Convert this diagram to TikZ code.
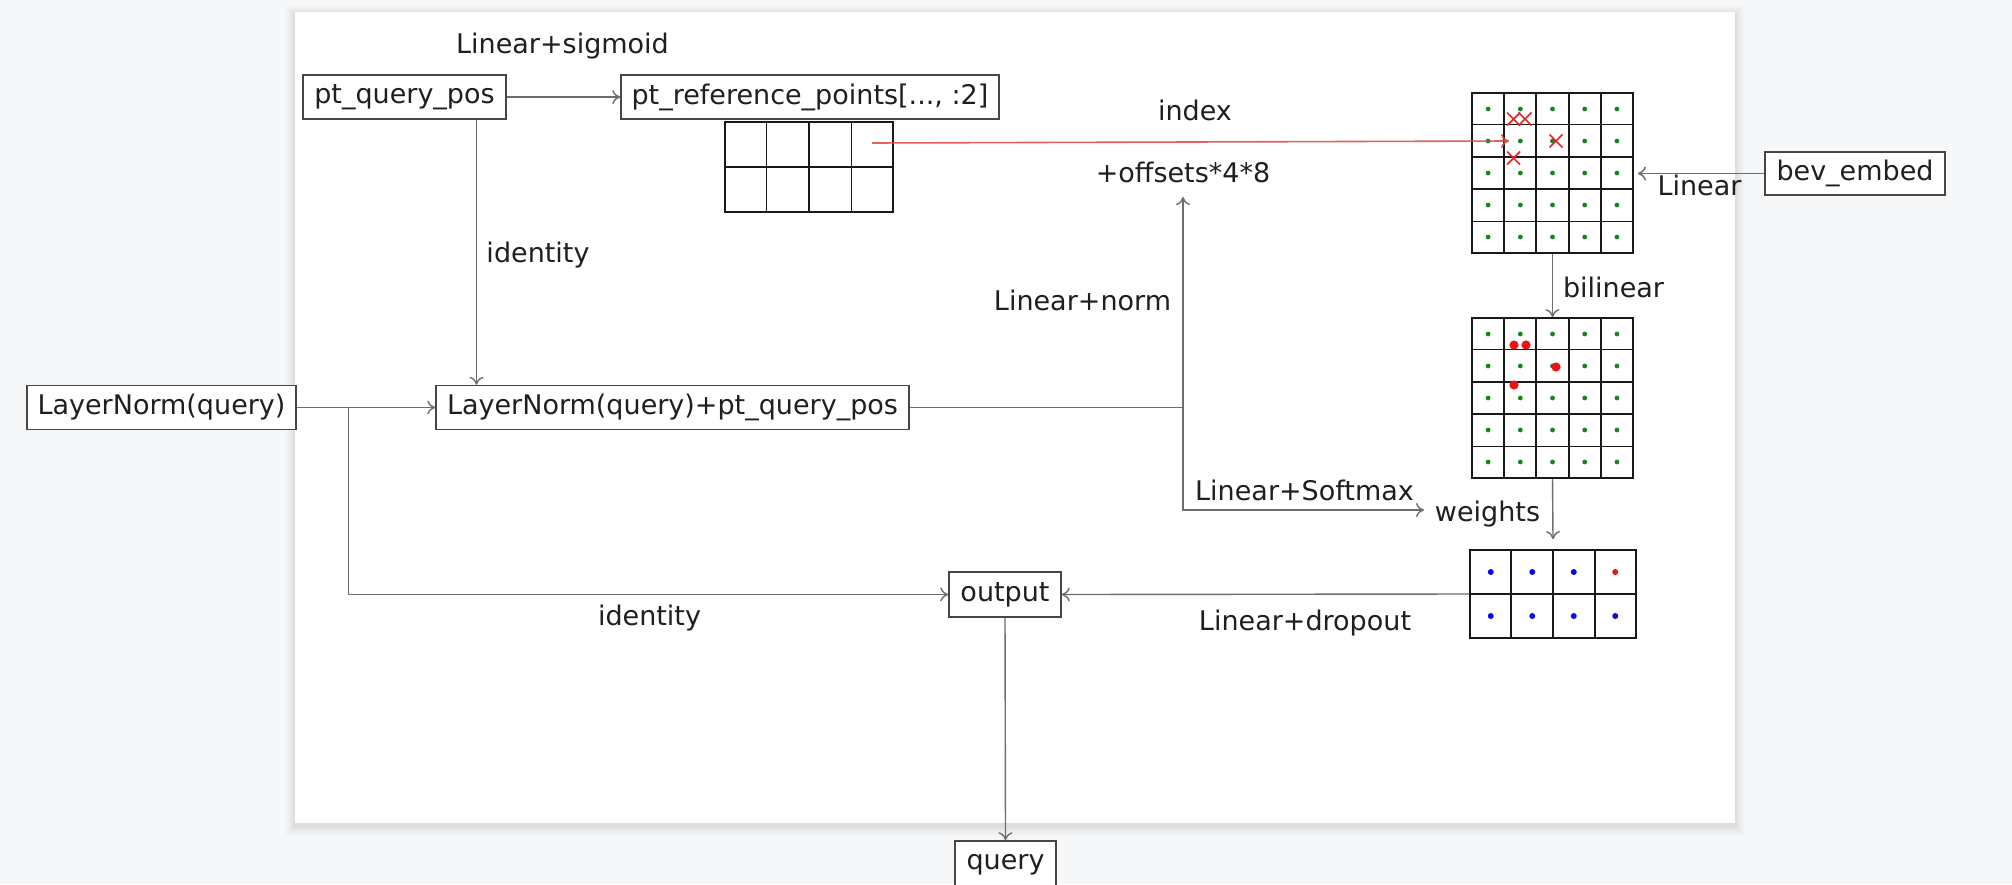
\documentclass[tikz,border=0pt]{standalone}
\usepackage{fontspec}
\setmainfont{DejaVu Sans}
\usetikzlibrary{arrows.meta,calc}
\definecolor{bgcol}{RGB}{246,247,249}
\definecolor{linecol}{RGB}{110,110,110}
\definecolor{boxcol}{RGB}{70,70,70}
\definecolor{redline}{RGB}{215,70,70}
\definecolor{xred}{RGB}{225,40,40}
\definecolor{dotred}{RGB}{235,20,20}
\definecolor{dotgreen}{RGB}{20,135,30}
\definecolor{dotblue}{RGB}{10,10,220}
\begin{document}
\begin{tikzpicture}[x=0.5pt,y=-0.5pt,
  txt/.style={font=\fontsize{13.5}{16}\selectfont, text=black!88},
  box/.style={txt, draw=boxcol, line width=0.75pt, fill=white, inner sep=0pt, minimum height=22pt},
  lbl/.style={txt, inner sep=0pt, anchor=base},
  conn/.style={draw=linecol, line width=0.7pt},
  arr/.style={conn, -{To[length=4pt,width=7pt]}},
  gridbox/.style={draw=black!90, line width=0.9pt, inner sep=0pt, fill=white},
  gline/.style={draw=black!90, line width=0.9pt},
  gdot/.style={fill=dotgreen},
  bdot/.style={fill=dotblue},
  rmark/.style={draw=xred, line width=0.8pt},
]
% canvas
\fill[bgcol] (0,0) rectangle (2012,884);
\useasboundingbox (0,0) rectangle (2012,884);
\clip (0,0) rectangle (2012,884);
% panel shadow
\foreach \k/\o in {10/0.012,8/0.015,6/0.02,4/0.025,2/0.03}
  \fill[black,opacity=\o] (295-\k,12-\k+3) rectangle (1735+\k,823+\k+3);
\fill[white] (295,12) rectangle (1735,823);

% grids
\node[gridbox, minimum width=84pt, minimum height=45pt] (g0) at (809,167) {};
\node[gridbox, minimum width=80.5pt, minimum height=80pt] (g1) at (1552.5,173) {};
\node[gridbox, minimum width=80.5pt, minimum height=80pt] (g2) at (1552.5,398) {};
\node[gridbox, minimum width=83pt, minimum height=44pt] (g3) at (1553,594) {};
\foreach \g/\nc/\nr in {g0/4/2,g1/5/5,g2/5/5,g3/4/2}{
  \pgfmathtruncatemacro{\ncm}{\nc-1}
  \pgfmathtruncatemacro{\nrm}{\nr-1}
  \foreach \i in {1,...,\ncm}
    \draw[gline] ($(\g.north west)!\i/\nc!(\g.north east)$) -- ($(\g.south west)!\i/\nc!(\g.south east)$);
  \foreach \j in {1,...,\nrm}
    \draw[gline] ($(\g.north west)!\j/\nr!(\g.south west)$) -- ($(\g.north east)!\j/\nr!(\g.south east)$);
}
% green dots in 5x5 grids
\foreach \c in {1,...,5}
  \foreach \r in {1,...,5}{
    \fill[gdot] ({1472+32.2*(\c-0.5)},{93+32*(\r-0.5)}) circle[radius=1.2pt];
    \fill[gdot] ({1472+32.2*(\c-0.5)},{318+32*(\r-0.5)}) circle[radius=1.2pt];
  }
% blue / red dots in the 4x2 grid
\foreach \c in {1,...,4}
  \foreach \r in {1,2}{
    \ifnum\c=4 \ifnum\r=1 \def\dc{dotred}\else\def\dc{dotblue}\fi\else\def\dc{dotblue}\fi
    \fill[fill=\dc] ({1470+41.5*(\c-0.5)},{550+44*(\r-0.5)}) circle[radius=1.5pt];
  }
% red sampled points
\foreach \px/\py in {1514/345,1526/345,1556/367,1514/385}
  \fill[dotred] (\px,\py) circle[radius=2.3pt];

% boxes
\node[box, minimum width=101.5pt] (pqpos) at (404.5,97) {pt\_query\_pos};
\node[box, minimum width=189pt] (ref) at (810,97) {pt\_reference\_points[..., :2]};
\node[box, minimum width=134.5pt] (ln) at (161.5,407.5) {LayerNorm(query)};
\node[box, minimum width=236.5pt] (lnp) at (672.5,407.5) {LayerNorm(query)+pt\_query\_pos};
\node[box, minimum width=90pt, minimum height=21.5pt] (bev) at (1855,173.5) {bev\_embed};
\node[box, minimum width=56pt, minimum height=22.5pt] (out) at (1005,594.5) {output};
\node[box, minimum width=50.5pt, minimum height=24pt] (query) at (1005.5,865) {query};

% labels
\node[lbl] (lsig) at (562.5,53) {Linear+sigmoid};
\node[lbl] (lidx) at (1195,120) {index};
\node[lbl] (offs) at (1183,182) {+offsets*4*8};
\node[lbl] (lid1) at (538,262) {identity};
\node[lbl] (lnorm) at (1082.5,310) {Linear+norm};
\node[lbl] (llin) at (1699.5,195) {Linear};
\node[lbl] (lbil) at (1613.5,297) {bilinear};
\node[lbl] (lsoft) at (1304.5,500) {Linear+Softmax};
\node[lbl] (wts) at (1487.5,521) {weights};
\node[lbl] (lid2) at (649.5,625) {identity};
\node[lbl] (ldrop) at (1305,630) {Linear+dropout};

% helper coordinates
\coordinate (cx) at (476.5,0);
\coordinate (j1) at (348.5,407.5);
\coordinate (j2) at (1183,407.5);
\coordinate (oend) at (1183,197);
\coordinate (wend) at (1424,510);
\coordinate (rstart) at (872,143);
\coordinate (rend) at (1509,141);

% connectors
\draw[arr] (pqpos.east) -- (ref.west);
\draw[arr] (pqpos.south -| cx) -- (lnp.north -| cx);
\draw[arr] (ln.east) -- (lnp.west);
\draw[arr] (j1) |- (out.west);
\draw[conn] (lnp.east) -- (j2);
\draw[arr] (j2) -- (oend);
\draw[arr] (j2) |- (wend);
\draw[arr] (bev.west) -- ([xshift=2pt]bev.west -| g1.east);
\draw[arr] (g1.south) -- (g2.north);
\draw[arr] (g2.south) -- ([yshift=5pt]g3.north);
\draw[arr] (g3.west) -- (out.east);
\draw[arr] (out.south) -- (query.north);
\draw[draw=redline, opacity=0.85, line width=0.8pt, -{To[length=4pt,width=7pt]}] (rstart) -- (rend);

% red crosses
\foreach \px/\py in {1513.6/119,1525/119,1556/141,1513.6/158}
  \draw[rmark] (\px-6.5,\py-6.5) -- (\px+6.5,\py+6.5) (\px-6.5,\py+6.5) -- (\px+6.5,\py-6.5);
\end{tikzpicture}
\end{document}
